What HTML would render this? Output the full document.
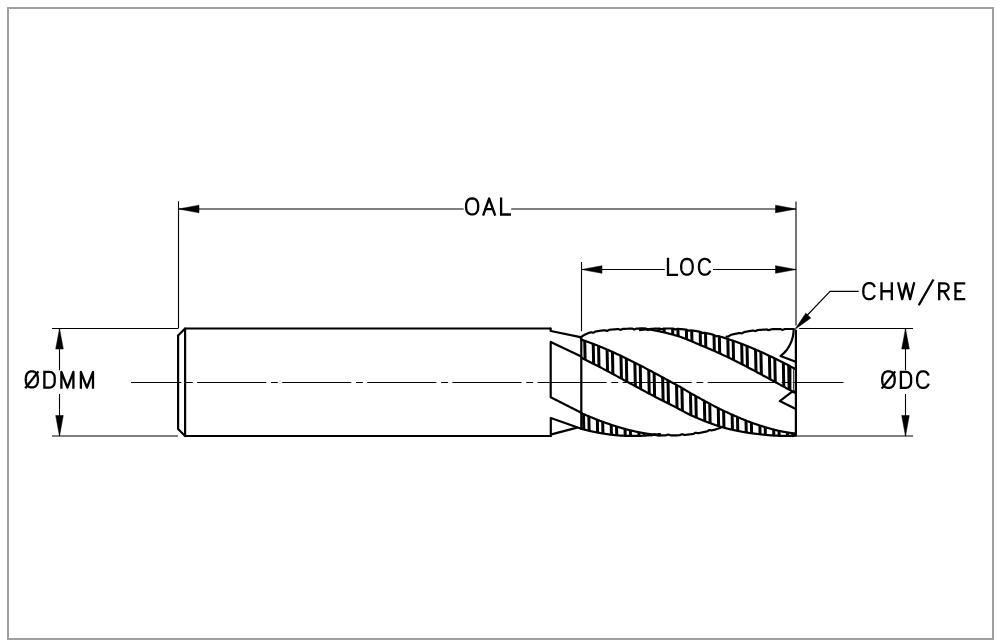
<!DOCTYPE html>
<html><head><meta charset="utf-8"><title>End mill drawing</title>
<style>html,body{margin:0;padding:0;background:#fff;}body{width:1001px;height:644px;overflow:hidden;font-family:"Liberation Sans",sans-serif;}svg{display:block;}</style>
</head><body><svg width="1001" height="644" viewBox="0 0 1001 644"><defs><clipPath id="cb0"><polygon points="581.3,339.62 581.8,339.79 582.3,339.96 582.8,340.13 583.3,340.3 583.8,340.47 584.3,340.64 584.8,340.82 585.3,340.99 585.8,341.17 586.3,341.34 586.81,341.52 587.31,341.7 587.81,341.88 588.31,342.06 588.81,342.24 589.31,342.43 589.81,342.61 590.31,342.79 590.81,342.98 591.31,343.17 591.81,343.36 592.31,343.55 592.81,343.74 593.31,343.93 593.81,344.12 594.31,344.31 594.81,344.51 595.31,344.7 595.81,344.9 596.31,345.09 596.81,345.29 597.31,345.49 597.82,345.69 598.32,345.89 598.82,346.09 599.32,346.29 599.82,346.5 600.32,346.7 600.82,346.91 601.32,347.11 601.82,347.32 602.32,347.53 602.82,347.74 603.32,347.95 603.82,348.16 604.32,348.37 604.82,348.58 605.32,348.79 605.82,349.01 606.32,349.22 606.82,349.44 607.32,349.66 607.82,349.87 608.33,350.09 608.83,350.31 609.33,350.53 609.83,350.75 610.33,350.97 610.83,351.2 611.33,351.42 611.83,351.64 612.33,351.87 612.83,352.09 613.33,352.32 613.83,352.55 614.33,352.77 614.83,353 615.33,353.23 615.83,353.46 616.33,353.69 616.83,353.92 617.33,354.16 617.83,354.39 618.33,354.62 618.83,354.86 619.34,355.09 619.84,355.33 620.34,355.56 620.84,355.8 621.34,356.04 621.84,356.28 622.34,356.52 622.84,356.76 623.34,357 623.84,357.24 624.34,357.48 624.84,357.72 625.34,357.97 625.84,358.21 626.34,358.45 626.84,358.7 627.34,358.94 627.84,359.19 628.34,359.44 628.84,359.68 629.34,359.93 629.85,360.18 630.35,360.43 630.85,360.68 631.35,360.93 631.85,361.18 632.35,361.43 632.85,361.68 633.35,361.93 633.85,362.19 634.35,362.44 634.85,362.69 635.35,362.95 635.85,363.2 636.35,363.46 636.85,363.71 637.35,363.97 637.85,364.23 638.35,364.48 638.85,364.74 639.35,365 639.85,365.26 640.36,365.52 640.86,365.78 641.36,366.04 641.86,366.3 642.36,366.56 642.86,366.82 643.36,367.08 643.86,367.34 644.36,367.6 644.86,367.87 645.36,368.13 645.86,368.39 646.36,368.66 646.86,368.92 647.36,369.18 647.86,369.45 648.36,369.71 648.86,369.98 649.36,370.24 649.86,370.51 650.36,370.78 650.86,371.04 651.37,371.31 651.87,371.58 652.37,371.84 652.87,372.11 653.37,372.38 653.87,372.65 654.37,372.92 654.87,373.19 655.37,373.45 655.87,373.72 656.37,373.99 656.87,374.26 657.37,374.53 657.87,374.8 658.37,375.07 658.87,375.34 659.37,375.61 659.87,375.88 660.37,376.15 660.87,376.42 661.37,376.7 661.88,376.97 662.38,377.24 662.88,377.51 663.38,377.78 663.88,378.05 664.38,378.32 664.88,378.6 665.38,378.87 665.88,379.14 666.38,379.41 666.88,379.68 667.38,379.96 667.88,380.23 668.38,380.5 668.88,380.77 669.38,381.05 669.88,381.32 670.38,381.59 670.88,381.86 671.38,382.14 671.88,382.41 672.38,382.68 672.89,382.95 673.39,383.23 673.89,383.5 674.39,383.77 674.89,384.04 675.39,384.32 675.89,384.59 676.39,384.86 676.89,385.13 677.39,385.41 677.89,385.68 678.39,385.95 678.89,386.22 679.39,386.49 679.89,386.76 680.39,387.06 680.89,387.36 681.39,387.66 681.89,387.96 682.39,388.26 682.89,388.57 683.4,388.87 683.9,389.17 684.4,389.47 684.9,389.77 685.4,390.07 685.9,390.37 686.4,390.67 686.9,390.97 687.4,391.27 687.9,391.56 688.4,391.86 688.9,392.16 689.4,392.46 689.9,392.76 690.4,393.04 690.9,393.33 691.4,393.61 691.9,393.89 692.4,394.17 692.9,394.45 693.4,394.73 693.9,395.01 694.41,395.3 694.91,395.58 695.41,395.86 695.91,396.13 696.41,396.41 696.91,396.69 697.41,396.97 697.91,397.25 698.41,397.53 698.91,397.8 699.41,398.08 699.91,398.36 700.41,398.63 700.91,398.91 701.41,399.18 701.91,399.46 702.41,399.73 702.91,400.01 703.41,400.28 703.91,400.56 704.41,400.83 704.92,401.1 705.42,401.37 705.92,401.64 706.42,401.92 706.92,402.19 707.42,402.46 707.92,402.72 708.42,402.99 708.92,403.26 709.42,403.53 709.92,403.8 710.42,404.06 710.92,404.33 711.42,404.6 711.92,404.86 712.42,405.13 712.92,405.39 713.42,405.66 713.92,405.92 714.42,406.18 714.92,406.44 715.42,406.7 715.93,406.97 716.43,407.23 716.93,407.48 717.43,407.74 717.93,408 718.43,408.26 718.93,408.52 719.43,408.77 719.93,409.03 720.43,409.27 720.93,409.51 721.43,409.75 721.93,409.99 722.43,410.23 722.93,410.46 723.43,410.7 723.93,410.93 724.43,411.17 724.93,411.4 725.43,411.64 725.93,411.87 726.44,412.1 726.94,412.33 727.44,412.56 727.94,412.79 728.44,413.02 728.94,413.25 729.44,413.48 729.94,413.7 730.44,413.93 730.94,414.15 731.44,414.38 731.94,414.6 732.44,414.82 732.94,415.05 733.44,415.27 733.94,415.49 734.44,415.71 734.94,415.93 735.44,416.14 735.94,416.36 736.44,416.58 736.94,416.79 737.45,417.01 737.95,417.22 738.45,417.43 738.95,417.64 739.45,417.86 739.95,418.07 740.45,418.27 740.95,418.48 741.45,418.69 741.95,418.9 742.45,419.1 742.95,419.31 743.45,419.51 743.95,419.71 744.45,419.92 744.95,420.12 745.45,420.32 745.95,420.52 746.45,420.72 746.95,420.91 747.45,421.11 747.96,421.3 748.46,421.5 748.96,421.69 749.46,421.88 749.96,422.08 750.46,422.26 750.96,422.44 751.46,422.62 751.96,422.8 752.46,422.98 752.96,423.16 753.46,423.33 753.96,423.51 754.46,423.68 754.96,423.85 755.46,424.03 755.96,424.2 756.46,424.37 756.96,424.54 757.46,424.7 757.96,424.87 758.47,425.04 758.97,425.2 759.47,425.36 759.97,425.53 760.47,425.69 760.97,425.85 761.47,426.01 761.97,426.17 762.47,426.32 762.97,426.48 763.47,426.63 763.97,426.79 764.47,426.94 764.97,427.09 765.47,427.24 765.97,427.39 766.47,427.54 766.97,427.69 767.47,427.83 767.97,427.98 768.47,428.12 768.97,428.27 769.48,428.41 769.98,428.55 770.48,428.69 770.98,428.82 771.48,428.96 771.98,429.1 772.48,429.23 772.98,429.36 773.48,429.5 773.98,429.63 774.48,429.76 774.98,429.88 775.48,430.01 775.98,430.14 776.48,430.26 776.98,430.39 777.48,430.51 777.98,430.63 778.48,430.75 778.98,430.87 779.48,430.99 779.99,431.1 780.49,431.2 780.99,431.3 781.49,431.39 781.99,431.49 782.49,431.58 782.99,431.68 783.49,431.77 783.99,431.86 784.49,431.94 784.99,432.03 785.49,432.12 785.99,432.2 786.49,432.29 786.99,432.37 787.49,432.45 787.99,432.53 788.49,432.61 788.99,432.68 789.49,432.76 789.99,432.83 790.49,432.91 791,432.98 791.5,433.05 792,433.12 792.5,433.19 793,433.25 793.5,433.32 794,433.38 794.5,433.45 795,433.51 795.5,433.57 796,433.63 796,435.52 795.5,435.55 795,435.58 794.5,435.61 794,435.63 793.5,435.66 793,435.68 792.5,435.7 792,435.73 791.5,435.75 791,435.76 790.49,435.78 789.99,435.8 789.49,435.81 788.99,435.82 788.49,435.84 787.99,435.85 787.49,435.85 786.99,435.86 786.49,435.87 785.99,435.87 785.49,435.88 784.99,435.88 784.49,435.88 783.99,435.88 783.49,435.88 782.99,435.87 782.49,435.87 781.99,435.86 781.49,435.85 780.99,435.84 780.49,435.83 779.99,435.82 779.48,435.81 778.98,435.79 778.48,435.78 777.98,435.76 777.48,435.74 776.98,435.72 776.48,435.7 775.98,435.68 775.48,435.65 774.98,435.63 774.48,435.6 773.98,435.57 773.48,435.54 772.98,435.51 772.48,435.48 771.98,435.44 771.48,435.41 770.98,435.37 770.48,435.33 769.98,435.3 769.48,435.25 768.97,435.21 768.47,435.17 767.97,435.12 767.47,435.08 766.97,435.03 766.47,434.98 765.97,434.93 765.47,434.88 764.97,434.83 764.47,434.77 763.97,434.72 763.47,434.66 762.97,434.6 762.47,434.54 761.97,434.48 761.47,434.42 760.97,434.35 760.47,434.29 759.97,434.22 759.47,434.18 758.97,434.13 758.47,434.08 757.96,434.03 757.46,433.98 756.96,433.92 756.46,433.87 755.96,433.81 755.46,433.76 754.96,433.7 754.46,433.64 753.96,433.58 753.46,433.51 752.96,433.45 752.46,433.38 751.96,433.32 751.46,433.25 750.96,433.18 750.46,433.11 749.96,433.04 749.46,432.97 748.96,432.89 748.46,432.82 747.96,432.74 747.45,432.66 746.95,432.58 746.45,432.5 745.95,432.42 745.45,432.33 744.95,432.25 744.45,432.16 743.95,432.08 743.45,431.99 742.95,431.9 742.45,431.81 741.95,431.72 741.45,431.62 740.95,431.53 740.45,431.43 739.95,431.33 739.45,431.24 738.95,431.14 738.45,431.04 737.95,430.95 737.45,430.85 736.94,430.74 736.44,430.64 735.94,430.54 735.44,430.43 734.94,430.33 734.44,430.22 733.94,430.11 733.44,430 732.94,429.89 732.44,429.78 731.94,429.66 731.44,429.55 730.94,429.43 730.44,429.32 729.94,429.2 729.44,429.08 728.94,428.96 728.44,428.84 727.94,428.71 727.44,428.59 726.94,428.47 726.44,428.34 725.93,428.21 725.43,428.08 724.93,427.95 724.43,427.82 723.93,427.69 723.43,427.56 722.93,427.42 722.43,427.29 721.93,427.15 721.43,427.01 720.93,426.87 720.43,426.71 719.93,426.55 719.43,426.38 718.93,426.22 718.43,426.05 717.93,425.89 717.43,425.72 716.93,425.55 716.43,425.38 715.93,425.21 715.42,425.04 714.92,424.86 714.42,424.69 713.92,424.51 713.42,424.34 712.92,424.16 712.42,423.98 711.92,423.8 711.42,423.62 710.92,423.44 710.42,423.26 709.92,423.07 709.42,422.89 708.92,422.7 708.42,422.52 707.92,422.33 707.42,422.14 706.92,421.95 706.42,421.76 705.92,421.57 705.42,421.38 704.92,421.18 704.41,420.98 703.91,420.78 703.41,420.58 702.91,420.37 702.41,420.17 701.91,419.96 701.41,419.75 700.91,419.55 700.41,419.34 699.91,419.13 699.41,418.92 698.91,418.71 698.41,418.49 697.91,418.28 697.41,418.07 696.91,417.85 696.41,417.63 695.91,417.42 695.41,417.2 694.91,416.98 694.41,416.76 693.9,416.54 693.4,416.32 692.9,416.1 692.4,415.87 691.9,415.65 691.4,415.43 690.9,415.2 690.4,414.97 689.9,414.74 689.4,414.49 688.9,414.23 688.4,413.98 687.9,413.72 687.4,413.46 686.9,413.2 686.4,412.94 685.9,412.68 685.4,412.42 684.9,412.16 684.4,411.9 683.9,411.64 683.4,411.37 682.89,411.11 682.39,410.84 681.89,410.58 681.39,410.31 680.89,410.04 680.39,409.77 679.89,409.51 679.39,409.24 678.89,408.97 678.39,408.69 677.89,408.42 677.39,408.15 676.89,407.88 676.39,407.6 675.89,407.33 675.39,407.06 674.89,406.79 674.39,406.54 673.89,406.3 673.39,406.06 672.89,405.81 672.38,405.57 671.88,405.32 671.38,405.08 670.88,404.83 670.38,404.58 669.88,404.33 669.38,404.08 668.88,403.83 668.38,403.58 667.88,403.33 667.38,403.08 666.88,402.83 666.38,402.58 665.88,402.33 665.38,402.07 664.88,401.82 664.38,401.57 663.88,401.31 663.38,401.06 662.88,400.8 662.38,400.55 661.88,400.29 661.37,400.03 660.87,399.78 660.37,399.52 659.87,399.26 659.37,399 658.87,398.74 658.37,398.48 657.87,398.22 657.37,397.96 656.87,397.7 656.37,397.44 655.87,397.18 655.37,396.92 654.87,396.65 654.37,396.39 653.87,396.13 653.37,395.86 652.87,395.6 652.37,395.34 651.87,395.07 651.37,394.81 650.86,394.54 650.36,394.28 649.86,394.01 649.36,393.74 648.86,393.48 648.36,393.21 647.86,392.94 647.36,392.68 646.86,392.41 646.36,392.14 645.86,391.87 645.36,391.61 644.86,391.34 644.36,391.07 643.86,390.8 643.36,390.53 642.86,390.26 642.36,389.99 641.86,389.72 641.36,389.45 640.86,389.18 640.36,388.91 639.85,388.64 639.35,388.37 638.85,388.1 638.35,387.83 637.85,387.56 637.35,387.29 636.85,387.01 636.35,386.74 635.85,386.47 635.35,386.2 634.85,385.93 634.35,385.66 633.85,385.38 633.35,385.11 632.85,384.84 632.35,384.57 631.85,384.29 631.35,384.02 630.85,383.75 630.35,383.48 629.85,383.2 629.34,382.93 628.84,382.66 628.34,382.39 627.84,382.11 627.34,381.84 626.84,381.57 626.34,381.3 625.84,381.02 625.34,380.75 624.84,380.48 624.34,380.21 623.84,379.93 623.34,379.66 622.84,379.39 622.34,379.12 621.84,378.85 621.34,378.57 620.84,378.3 620.34,378.03 619.84,377.76 619.34,377.49 618.83,377.22 618.33,376.94 617.83,376.67 617.33,376.4 616.83,376.13 616.33,375.86 615.83,375.59 615.33,375.32 614.83,375.05 614.33,374.78 613.83,374.51 613.33,374.24 612.83,373.97 612.33,373.7 611.83,373.43 611.33,373.16 610.83,372.89 610.33,372.63 609.83,372.36 609.33,372.09 608.83,371.82 608.33,371.56 607.82,371.29 607.32,371.02 606.82,370.76 606.32,370.49 605.82,370.22 605.32,369.96 604.82,369.69 604.32,369.43 603.82,369.16 603.32,368.9 602.82,368.63 602.32,368.37 601.82,368.11 601.32,367.85 600.82,367.58 600.32,367.32 599.82,367.06 599.32,366.8 598.82,366.54 598.32,366.28 597.82,366.02 597.31,365.76 596.81,365.5 596.31,365.24 595.81,364.98 595.31,364.72 594.81,364.46 594.31,364.21 593.81,363.95 593.31,363.69 592.81,363.44 592.31,363.18 591.81,362.93 591.31,362.67 590.81,362.42 590.31,362.17 589.81,361.91 589.31,361.66 588.81,361.41 588.31,361.16 587.81,360.91 587.31,360.66 586.81,360.41 586.3,360.16 585.8,359.91 585.3,359.66 584.8,359.42 584.3,359.17 583.8,358.92 583.3,358.68 582.8,358.43 582.3,358.19 581.8,357.95 581.3,357.7"/></clipPath><clipPath id="cb1"><polygon points="640,330.09 640.5,330.02 641,329.96 641.5,329.89 642,329.83 642.5,329.77 643,329.71 643.5,329.65 644,329.59 644.5,329.54 645,329.48 645.5,329.43 646,329.49 646.5,329.61 647,329.74 647.5,329.87 648,329.96 648.5,329.74 649,329.52 649.5,329.3 650,329.08 650.5,328.96 651,328.93 651.5,328.89 652,328.85 652.5,328.82 653,328.79 653.5,328.75 654,328.72 654.5,328.69 655,328.67 655.5,328.64 656,328.61 656.5,328.59 657,328.57 657.5,328.55 658,328.53 658.5,328.51 659,328.5 659.5,328.56 660,328.74 660.5,328.91 661,329.09 661.5,329.26 662,329.16 662.5,328.98 663,328.81 663.5,328.63 664,328.5 664.5,328.5 665,328.5 665.5,328.5 666,328.5 666.5,328.5 667,328.5 667.5,328.5 668,328.5 668.5,328.5 669,328.5 669.5,328.5 670,328.5 670.5,328.5 671,328.5 671.5,328.52 672,328.54 672.5,328.56 673,328.59 673.5,328.79 674,328.99 674.5,329.19 675,329.4 675.5,329.43 676,329.28 676.5,329.14 677,328.99 677.5,328.85 678,328.88 678.5,328.91 679,328.95 679.5,328.99 680,329.03 680.5,329.08 681,329.12 681.5,329.16 682,329.21 682.5,329.26 683,329.31 683.5,329.36 684,329.41 684.5,329.46 685,329.52 685.5,329.57 686,329.63 686.5,329.69 687,329.88 687.5,330.12 688,330.36 688.5,330.6 689,330.77 689.5,330.66 690,330.55 690.5,330.44 691,330.34 691.5,330.35 692,330.42 692.5,330.5 693,330.57 693.5,330.65 694,330.73 694.5,330.81 695,330.89 695.5,330.97 696,331.06 696.5,331.14 697,331.23 697.5,331.32 698,331.4 698.5,331.5 699,331.59 699.5,331.68 700,331.77 700.5,331.95 701,332.22 701.5,332.5 702,332.77 702.5,333.05 703,333.01 703.5,332.94 704,332.86 704.5,332.79 705,332.79 705.5,332.9 706,333.01 706.5,333.12 707,333.23 707.5,333.34 708,333.46 708.5,333.57 709,333.69 709.5,333.81 710,333.93 710.5,334.05 711,334.17 711.5,334.29 712,334.42 712.5,334.54 713,334.67 713.5,334.8 714,334.95 714.5,335.26 715,335.57 715.5,335.88 716,336.19 716.5,336.29 717,336.25 717.5,336.21 718,336.17 718.5,336.15 719,336.29 719.5,336.43 720,336.58 720.5,336.72 721,336.87 721.5,337.01 722,337.16 722.5,337.31 723,337.46 723.5,337.61 724,337.77 724.5,337.92 725,338.08 725.5,338.23 726,338.39 726.5,338.55 727,338.71 727.5,338.87 728,339.03 728.5,339.19 729,339.36 729.5,339.52 730,339.69 730.5,339.86 731,340.03 731.5,340.2 732,340.37 732.5,340.54 733,340.71 733.5,340.88 734,341.06 734.5,341.24 735,341.41 735.5,341.59 736,341.77 736.5,341.95 737,342.13 737.5,342.31 738,342.5 738.5,342.68 739,342.87 739.5,343.05 740,343.24 740.5,343.43 741,343.62 741.5,343.81 742,344 742.5,344.19 743,344.38 743.5,344.58 744,344.77 744.5,344.97 745,345.17 745.5,345.36 746,345.56 746.5,345.76 747,345.96 747.5,346.17 748,346.37 748.5,346.57 749,346.78 749.5,346.98 750,347.19 750.5,347.4 751,347.6 751.5,347.81 752,348.02 752.5,348.23 753,348.44 753.5,348.66 754,348.87 754.5,349.08 755,349.3 755.5,349.52 756,349.73 756.5,349.95 757,350.17 757.5,350.39 758,350.61 758.5,350.83 759,351.05 759.5,351.27 760,351.5 760.5,351.72 761,351.94 761.5,352.17 762,352.4 762.5,352.62 763,352.85 763.5,353.08 764,353.31 764.5,353.54 765,353.77 765.5,354 766,354.23 766.5,354.47 767,354.7 767.5,354.93 768,355.17 768.5,355.41 769,355.64 769.5,355.88 770,356.12 770.5,356.36 771,356.59 771.5,356.83 772,357.08 772.5,357.32 773,357.56 773.5,357.8 774,358.04 774.5,358.29 775,358.53 775.5,358.78 776,359.02 776.5,359.27 777,359.51 777.5,359.76 778,360.01 778.5,360.26 779,360.51 779.5,360.76 780,361.01 780.5,361.26 781,361.51 781.5,361.76 782,362.01 782.5,362.26 783,362.52 783.5,362.77 784,363.03 784.5,363.28 785,363.53 785.5,363.79 786,364.05 786.5,364.3 787,364.56 787.5,364.82 788,365.08 788.5,365.33 789,365.59 789.5,365.85 790,366.11 790.5,366.37 791,366.63 791.5,366.89 792,367.15 792.5,367.42 793,367.68 793.5,367.94 794,368.2 794.5,368.47 795,368.73 795.5,368.99 796,369.26 796,393.28 795.5,393.02 795,392.75 794.5,392.48 794,392.22 793.5,391.95 793,391.68 792.5,391.41 792,391.14 791.5,390.88 791,390.61 790.5,390.34 790,390.07 789.5,389.8 789,389.53 788.5,389.26 788,388.99 787.5,388.72 787,388.45 786.5,388.18 786,387.91 785.5,387.64 785,387.37 784.5,387.09 784,386.82 783.5,386.55 783,386.28 782.5,386.01 782,385.74 781.5,385.47 781,385.19 780.5,384.92 780,384.65 779.5,384.38 779,384.11 778.5,383.83 778,383.56 777.5,383.29 777,383.02 776.5,382.74 776,382.47 775.5,382.2 775,381.93 774.5,381.66 774,381.38 773.5,381.11 773,380.84 772.5,380.57 772,380.29 771.5,380.02 771,379.75 770.5,379.48 770,379.21 769.5,378.93 769,378.66 768.5,378.39 768,378.12 767.5,377.85 767,377.58 766.5,377.31 766,377.03 765.5,376.76 765,376.49 764.5,376.22 764,375.95 763.5,375.68 763,375.41 762.5,375.14 762,374.87 761.5,374.6 761,374.33 760.5,374.06 760,373.79 759.5,373.52 759,373.26 758.5,372.99 758,372.72 757.5,372.45 757,372.18 756.5,371.92 756,371.65 755.5,371.38 755,371.12 754.5,370.85 754,370.58 753.5,370.32 753,370.05 752.5,369.79 752,369.52 751.5,369.26 751,368.99 750.5,368.73 750,368.47 749.5,368.2 749,367.94 748.5,367.68 748,367.42 747.5,367.15 747,366.89 746.5,366.63 746,366.37 745.5,366.11 745,365.85 744.5,365.59 744,365.33 743.5,365.08 743,364.82 742.5,364.56 742,364.3 741.5,364.05 741,363.79 740.5,363.53 740,363.28 739.5,363.03 739,362.77 738.5,362.52 738,362.26 737.5,362.01 737,361.76 736.5,361.51 736,361.26 735.5,361.01 735,360.76 734.5,360.51 734,360.26 733.5,360.01 733,359.76 732.5,359.51 732,359.27 731.5,359.02 731,358.78 730.5,358.53 730,358.29 729.5,358.04 729,357.8 728.5,357.56 728,357.32 727.5,357.08 727,356.83 726.5,356.59 726,356.36 725.5,356.12 725,355.88 724.5,355.64 724,355.41 723.5,355.17 723,354.93 722.5,354.7 722,354.47 721.5,354.23 721,354 720.5,353.77 720,353.54 719.5,353.31 719,353.08 718.5,352.85 718,352.62 717.5,352.4 717,352.17 716.5,351.94 716,351.72 715.5,351.5 715,351.27 714.5,351.05 714,350.83 713.5,350.61 713,350.39 712.5,350.17 712,349.95 711.5,349.73 711,349.52 710.5,349.3 710,349.08 709.5,348.87 709,348.66 708.5,348.44 708,348.23 707.5,348.02 707,347.81 706.5,347.6 706,347.4 705.5,347.19 705,346.98 704.5,346.78 704,346.57 703.5,346.37 703,346.17 702.5,345.96 702,345.76 701.5,345.56 701,345.36 700.5,345.17 700,344.97 699.5,344.74 699,344.52 698.5,344.29 698,344.07 697.5,343.85 697,343.63 696.5,343.41 696,343.19 695.5,342.97 695,342.75 694.5,342.54 694,342.32 693.5,342.11 693,341.89 692.5,341.68 692,341.47 691.5,341.26 691,341.05 690.5,340.84 690,340.64 689.5,340.43 689,340.22 688.5,340.02 688,339.82 687.5,339.62 687,339.42 686.5,339.22 686,339.02 685.5,338.82 685,338.62 684.5,338.43 684,338.23 683.5,338.04 683,337.85 682.5,337.66 682,337.47 681.5,337.28 681,337.09 680.5,336.91 680,336.72 679.5,336.57 679,336.41 678.5,336.26 678,336.11 677.5,335.96 677,335.81 676.5,335.67 676,335.52 675.5,335.38 675,335.23 674.5,335.09 674,334.95 673.5,334.81 673,334.67 672.5,334.53 672,334.39 671.5,334.26 671,334.12 670.5,333.99 670,333.86 669.5,333.73 669,333.6 668.5,333.47 668,333.34 667.5,333.22 667,333.09 666.5,332.97 666,332.85 665.5,332.73 665,332.61 664.5,332.49 664,332.37 663.5,332.26 663,332.14 662.5,332.03 662,331.92 661.5,331.81 661,331.7 660.5,331.59 660,331.48 659.5,331.37 659,331.27 658.5,331.17 658,331.06 657.5,330.96 657,330.86 656.5,330.77 656,330.67 655.5,330.57 655,330.48 654.5,330.39 654,330.3 653.5,330.2 653,330.12 652.5,330.03 652,329.94 651.5,329.86 651,329.77 650.5,329.69 650,329.61 649.5,329.53 649,329.45 648.5,329.37 648,329.3 647.5,329.22 647,329.15 646.5,329.08 646,329.01 645.5,328.94 645,328.87 644.5,328.8 644,328.74 643.5,328.67 643,328.61 642.5,328.55 642,328.5 641.5,328.5 641,328.5 640.5,328.5 640,328.5"/></clipPath><clipPath id="cb2"><polygon points="581.3,413.04 581.8,413.26 582.3,413.48 582.8,413.71 583.31,413.93 583.81,414.15 584.31,414.37 584.81,414.58 585.31,414.8 585.81,415.02 586.31,415.23 586.81,415.45 587.32,415.66 587.82,415.88 588.32,416.09 588.82,416.3 589.32,416.51 589.82,416.72 590.32,416.93 590.82,417.14 591.33,417.35 591.83,417.55 592.33,417.76 592.83,417.96 593.33,418.17 593.83,418.37 594.33,418.57 594.83,418.77 595.34,418.97 595.84,419.17 596.34,419.37 596.84,419.56 597.34,419.76 597.84,419.95 598.34,420.15 598.84,420.34 599.35,420.53 599.85,420.72 600.35,420.91 600.85,421.1 601.35,421.29 601.85,421.48 602.35,421.67 602.85,421.85 603.36,422.03 603.86,422.22 604.36,422.4 604.86,422.58 605.36,422.76 605.86,422.94 606.36,423.12 606.86,423.29 607.37,423.47 607.87,423.64 608.37,423.82 608.87,423.99 609.37,424.16 609.87,424.33 610.37,424.5 610.88,424.67 611.38,424.84 611.88,425 612.38,425.17 612.88,425.33 613.38,425.49 613.88,425.65 614.38,425.81 614.89,425.97 615.39,426.13 615.89,426.29 616.39,426.45 616.89,426.6 617.39,426.75 617.89,426.91 618.39,427.06 618.9,427.21 619.4,427.36 619.9,427.5 620.4,427.65 620.9,427.8 621.4,427.94 621.9,428.08 622.4,428.23 622.91,428.37 623.41,428.51 623.91,428.64 624.41,428.78 624.91,428.92 625.41,429.05 625.91,429.19 626.41,429.32 626.92,429.45 627.42,429.58 627.92,429.71 628.42,429.84 628.92,429.96 629.42,430.09 629.92,430.21 630.42,430.33 630.93,430.45 631.43,430.57 631.93,430.69 632.43,430.81 632.93,430.93 633.43,431.04 633.93,431.16 634.44,431.27 634.94,431.38 635.44,431.49 635.94,431.6 636.44,431.71 636.94,431.81 637.44,431.92 637.94,432.02 638.45,432.12 638.95,432.23 639.45,432.32 639.95,432.42 640.45,432.52 640.95,432.62 641.45,432.71 641.95,432.8 642.46,432.9 642.96,432.99 643.46,433.08 643.96,433.16 644.46,433.25 644.96,433.34 645.46,433.42 645.96,433.5 646.47,433.59 646.97,433.67 647.47,433.74 647.97,433.82 648.47,433.9 648.97,433.97 649.47,434.05 649.97,434.12 650.48,434.19 650.98,434.26 651.48,434.33 651.98,434.39 652.48,434.46 652.98,434.52 653.48,434.59 653.98,434.65 654.49,434.71 654.99,434.77 655.49,434.82 655.99,434.88 656.49,434.94 656.99,434.99 657.49,435.04 657.99,435.09 658.5,435.14 659,435.19 659.5,435.24 660,435.28 660,434 659.5,434.07 659,434.14 658.5,434.21 657.99,434.28 657.49,434.35 656.99,434.42 656.49,434.48 655.99,434.55 655.49,434.61 654.99,434.67 654.49,434.73 653.98,434.79 653.48,434.84 652.98,434.9 652.48,434.95 651.98,435.01 651.48,435.06 650.98,435.11 650.48,435.16 649.97,435.21 649.47,435.25 648.97,435.3 648.47,435.34 647.97,435.38 647.47,435.42 646.97,435.46 646.47,435.5 645.96,435.54 645.46,435.57 644.96,435.6 644.46,435.64 643.96,435.67 643.46,435.7 642.96,435.73 642.46,435.75 641.95,435.78 641.45,435.8 640.95,435.8 640.45,435.8 639.95,435.8 639.45,435.8 638.95,435.8 638.45,435.8 637.94,435.8 637.44,435.8 636.94,435.8 636.44,435.8 635.94,435.8 635.44,435.8 634.94,435.8 634.44,435.8 633.93,435.8 633.43,435.8 632.93,435.8 632.43,435.8 631.93,435.8 631.43,435.8 630.93,435.8 630.42,435.8 629.92,435.8 629.42,435.8 628.92,435.8 628.42,435.8 627.92,435.8 627.42,435.8 626.92,435.8 626.41,435.8 625.91,435.8 625.41,435.8 624.91,435.8 624.41,435.8 623.91,435.77 623.41,435.75 622.91,435.72 622.4,435.69 621.9,435.66 621.4,435.63 620.9,435.6 620.4,435.56 619.9,435.53 619.4,435.49 618.9,435.45 618.39,435.42 617.89,435.37 617.39,435.33 616.89,435.29 616.39,435.24 615.89,435.2 615.39,435.15 614.89,435.1 614.38,435.05 613.88,435 613.38,434.95 612.88,434.89 612.38,434.84 611.88,434.78 611.38,434.72 610.88,434.66 610.37,434.6 609.87,434.54 609.37,434.47 608.87,434.41 608.37,434.34 607.87,434.27 607.37,434.2 606.86,434.13 606.36,434.06 605.86,433.99 605.36,433.91 604.86,433.84 604.36,433.76 603.86,433.68 603.36,433.6 602.85,433.52 602.35,433.44 601.85,433.35 601.35,433.27 600.85,433.18 600.35,433.09 599.85,433 599.35,432.91 598.84,432.82 598.34,432.73 597.84,432.63 597.34,432.54 596.84,432.44 596.34,432.34 595.84,432.24 595.34,432.14 594.83,432.04 594.33,431.94 593.83,431.83 593.33,431.73 592.83,431.62 592.33,431.51 591.83,431.4 591.33,431.29 590.82,431.18 590.32,431.06 589.82,430.95 589.32,430.83 588.82,430.71 588.32,430.6 587.82,430.48 587.32,430.36 586.81,430.23 586.31,430.11 585.81,429.98 585.31,429.86 584.81,429.73 584.31,429.6 583.81,429.47 583.31,429.34 582.8,429.21 582.3,429.08 581.8,428.94 581.3,428.81"/></clipPath></defs><rect x="8" y="8" width="985" height="631" fill="none" stroke="#a0a0a0" stroke-width="2"/><line x1="178.5" y1="201.2" x2="178.5" y2="328.5" stroke="#000" stroke-width="1.1"/><line x1="178" y1="328.5" x2="52" y2="328.5" stroke="#000" stroke-width="1.1"/><line x1="796" y1="201.6" x2="796" y2="325.5" stroke="#000" stroke-width="1.1"/><line x1="178.5" y1="209" x2="463.6" y2="209" stroke="#000" stroke-width="1.1"/><line x1="511.2" y1="209" x2="796" y2="209" stroke="#000" stroke-width="1.1"/><polygon points="178.5,209 199,205.2 199,212.8" fill="#000" stroke="#000" stroke-width="0.5" stroke-linejoin="round"/><polygon points="796,209 775.5,212.8 775.5,205.2" fill="#000" stroke="#000" stroke-width="0.5" stroke-linejoin="round"/><line x1="581.5" y1="262" x2="581.5" y2="331.2" stroke="#000" stroke-width="1.1"/><line x1="581.5" y1="269.5" x2="664.8" y2="269.5" stroke="#000" stroke-width="1.1"/><line x1="713" y1="269.5" x2="796" y2="269.5" stroke="#000" stroke-width="1.1"/><polygon points="581.5,269.5 602,265.7 602,273.3" fill="#000" stroke="#000" stroke-width="0.5" stroke-linejoin="round"/><polygon points="796,269.5 775.5,273.3 775.5,265.7" fill="#000" stroke="#000" stroke-width="0.5" stroke-linejoin="round"/><line x1="52" y1="436" x2="178" y2="436" stroke="#000" stroke-width="1.1"/><line x1="59.5" y1="328.5" x2="59.5" y2="370.3" stroke="#000" stroke-width="1.1"/><line x1="59.5" y1="394" x2="59.5" y2="436" stroke="#000" stroke-width="1.1"/><polygon points="59.5,328.5 63.3,349 55.7,349" fill="#000" stroke="#000" stroke-width="0.5" stroke-linejoin="round"/><polygon points="59.5,436 55.7,415.5 63.3,415.5" fill="#000" stroke="#000" stroke-width="0.5" stroke-linejoin="round"/><line x1="799.2" y1="328.5" x2="913" y2="328.5" stroke="#000" stroke-width="1.1"/><line x1="795.3" y1="436" x2="913" y2="436" stroke="#000" stroke-width="1.1"/><line x1="905.5" y1="328.5" x2="905.5" y2="370.3" stroke="#000" stroke-width="1.1"/><line x1="905.5" y1="394" x2="905.5" y2="436" stroke="#000" stroke-width="1.1"/><polygon points="905.5,328.5 909.3,349 901.7,349" fill="#000" stroke="#000" stroke-width="0.5" stroke-linejoin="round"/><polygon points="905.5,436 901.7,415.5 909.3,415.5" fill="#000" stroke="#000" stroke-width="0.5" stroke-linejoin="round"/><polyline points="858.7,291.4 830.1,291.4 806,316.5" stroke="#000" stroke-width="1.1" fill="none"/><polygon points="794.8,329.5 805.81,313.14 810.83,318.02" fill="#000" stroke="#000" stroke-width="0.5" stroke-linejoin="round"/><path d="M131,382.5H181.2 M185.8,382.5H192.7 M197.1,382.5H266.2 M270.9,382.5H277.8 M282.2,382.5H351.3 M356,382.5H362.9 M367.3,382.5H436.4 M441.1,382.5H448 M452.4,382.5H521.5 M526.2,382.5H533.1 M537.5,382.5H606.6 M611.3,382.5H618.2 M622.6,382.5H691.7 M696.4,382.5H703.3 M707.7,382.5H776.8 M781.5,382.5H788.4 M792.8,382.5H843.5" stroke="#000" stroke-width="1.1" fill="none"/><path d="M550.5,328.5 H185.1 L178.1,335.5 V429 L185.1,436 H550.8" stroke="#000" stroke-width="2.2" fill="none" stroke-linejoin="round" stroke-linecap="round"/><path d="M185.1,328.5 V436" stroke="#000" stroke-width="2.2" fill="none" stroke-linejoin="round" stroke-linecap="round"/><path d="M550.5,328.5 L550.8,331 L580.5,337.2" stroke="#000" stroke-width="2.2" fill="none" stroke-linejoin="round" stroke-linecap="round"/><path d="M581.3,356.5 L550.7,342 V397.2 L581.3,412.8" stroke="#000" stroke-width="2.2" fill="none" stroke-linejoin="round" stroke-linecap="round"/><path d="M550.8,436 V418 L581.3,428.7 M551.5,434.4 L577,427.6" stroke="#000" stroke-width="2.2" fill="none" stroke-linejoin="round" stroke-linecap="round"/><path d="M581.3,337.2 V429" stroke="#000" stroke-width="2.2" fill="none" stroke-linejoin="round" stroke-linecap="round"/><g clip-path="url(#cb0)"><path d="M551.9,339.62L553.83,435.88M557.2,339.62L559.13,435.88M565.65,339.62L567.58,435.88M570.95,339.62L572.88,435.88M579.4,339.62L581.33,435.88M584.7,339.62L586.63,435.88M593.15,339.62L595.08,435.88M598.45,339.62L600.38,435.88M606.9,339.62L608.83,435.88M612.2,339.62L614.13,435.88M620.65,339.62L622.58,435.88M625.95,339.62L627.88,435.88M634.4,339.62L636.33,435.88M639.7,339.62L641.63,435.88M648.15,339.62L650.08,435.88M653.45,339.62L655.38,435.88M661.9,339.62L663.83,435.88M667.2,339.62L669.13,435.88M675.65,339.62L677.58,435.88M680.95,339.62L682.88,435.88M689.4,339.62L691.33,435.88M694.7,339.62L696.63,435.88M703.15,339.62L705.08,435.88M708.45,339.62L710.38,435.88M716.9,339.62L718.83,435.88M722.2,339.62L724.13,435.88M730.65,339.62L732.58,435.88M735.95,339.62L737.88,435.88M744.4,339.62L746.33,435.88M749.7,339.62L751.63,435.88M758.15,339.62L760.08,435.88M763.45,339.62L765.38,435.88M771.9,339.62L773.83,435.88M777.2,339.62L779.13,435.88M785.65,339.62L787.58,435.88M790.95,339.62L792.88,435.88M799.4,339.62L801.33,435.88M804.7,339.62L806.63,435.88M813.15,339.62L815.08,435.88M818.45,339.62L820.38,435.88M826.9,339.62L828.83,435.88M832.2,339.62L834.13,435.88" stroke="#000" stroke-width="3.0"/></g><polyline points="581.3,339.62 581.8,339.79 582.3,339.96 582.8,340.13 583.3,340.3 583.8,340.47 584.3,340.64 584.8,340.82 585.3,340.99 585.8,341.17 586.3,341.34 586.81,341.52 587.31,341.7 587.81,341.88 588.31,342.06 588.81,342.24 589.31,342.43 589.81,342.61 590.31,342.79 590.81,342.98 591.31,343.17 591.81,343.36 592.31,343.55 592.81,343.74 593.31,343.93 593.81,344.12 594.31,344.31 594.81,344.51 595.31,344.7 595.81,344.9 596.31,345.09 596.81,345.29 597.31,345.49 597.82,345.69 598.32,345.89 598.82,346.09 599.32,346.29 599.82,346.5 600.32,346.7 600.82,346.91 601.32,347.11 601.82,347.32 602.32,347.53 602.82,347.74 603.32,347.95 603.82,348.16 604.32,348.37 604.82,348.58 605.32,348.79 605.82,349.01 606.32,349.22 606.82,349.44 607.32,349.66 607.82,349.87 608.33,350.09 608.83,350.31 609.33,350.53 609.83,350.75 610.33,350.97 610.83,351.2 611.33,351.42 611.83,351.64 612.33,351.87 612.83,352.09 613.33,352.32 613.83,352.55 614.33,352.77 614.83,353 615.33,353.23 615.83,353.46 616.33,353.69 616.83,353.92 617.33,354.16 617.83,354.39 618.33,354.62 618.83,354.86 619.34,355.09 619.84,355.33 620.34,355.56 620.84,355.8 621.34,356.04 621.84,356.28 622.34,356.52 622.84,356.76 623.34,357 623.84,357.24 624.34,357.48 624.84,357.72 625.34,357.97 625.84,358.21 626.34,358.45 626.84,358.7 627.34,358.94 627.84,359.19 628.34,359.44 628.84,359.68 629.34,359.93 629.85,360.18 630.35,360.43 630.85,360.68 631.35,360.93 631.85,361.18 632.35,361.43 632.85,361.68 633.35,361.93 633.85,362.19 634.35,362.44 634.85,362.69 635.35,362.95 635.85,363.2 636.35,363.46 636.85,363.71 637.35,363.97 637.85,364.23 638.35,364.48 638.85,364.74 639.35,365 639.85,365.26 640.36,365.52 640.86,365.78 641.36,366.04 641.86,366.3 642.36,366.56 642.86,366.82 643.36,367.08 643.86,367.34 644.36,367.6 644.86,367.87 645.36,368.13 645.86,368.39 646.36,368.66 646.86,368.92 647.36,369.18 647.86,369.45 648.36,369.71 648.86,369.98 649.36,370.24 649.86,370.51 650.36,370.78 650.86,371.04 651.37,371.31 651.87,371.58 652.37,371.84 652.87,372.11 653.37,372.38 653.87,372.65 654.37,372.92 654.87,373.19 655.37,373.45 655.87,373.72 656.37,373.99 656.87,374.26 657.37,374.53 657.87,374.8 658.37,375.07 658.87,375.34 659.37,375.61 659.87,375.88 660.37,376.15 660.87,376.42 661.37,376.7 661.88,376.97 662.38,377.24 662.88,377.51 663.38,377.78 663.88,378.05 664.38,378.32 664.88,378.6 665.38,378.87 665.88,379.14 666.38,379.41 666.88,379.68 667.38,379.96 667.88,380.23 668.38,380.5 668.88,380.77 669.38,381.05 669.88,381.32 670.38,381.59 670.88,381.86 671.38,382.14 671.88,382.41 672.38,382.68 672.89,382.95 673.39,383.23 673.89,383.5 674.39,383.77 674.89,384.04 675.39,384.32 675.89,384.59 676.39,384.86 676.89,385.13 677.39,385.41 677.89,385.68 678.39,385.95 678.89,386.22 679.39,386.49 679.89,386.76 680.39,387.06 680.89,387.36 681.39,387.66 681.89,387.96 682.39,388.26 682.89,388.57 683.4,388.87 683.9,389.17 684.4,389.47 684.9,389.77 685.4,390.07 685.9,390.37 686.4,390.67 686.9,390.97 687.4,391.27 687.9,391.56 688.4,391.86 688.9,392.16 689.4,392.46 689.9,392.76 690.4,393.04 690.9,393.33 691.4,393.61 691.9,393.89 692.4,394.17 692.9,394.45 693.4,394.73 693.9,395.01 694.41,395.3 694.91,395.58 695.41,395.86 695.91,396.13 696.41,396.41 696.91,396.69 697.41,396.97 697.91,397.25 698.41,397.53 698.91,397.8 699.41,398.08 699.91,398.36 700.41,398.63 700.91,398.91 701.41,399.18 701.91,399.46 702.41,399.73 702.91,400.01 703.41,400.28 703.91,400.56 704.41,400.83 704.92,401.1 705.42,401.37 705.92,401.64 706.42,401.92 706.92,402.19 707.42,402.46 707.92,402.72 708.42,402.99 708.92,403.26 709.42,403.53 709.92,403.8 710.42,404.06 710.92,404.33 711.42,404.6 711.92,404.86 712.42,405.13 712.92,405.39 713.42,405.66 713.92,405.92 714.42,406.18 714.92,406.44 715.42,406.7 715.93,406.97 716.43,407.23 716.93,407.48 717.43,407.74 717.93,408 718.43,408.26 718.93,408.52 719.43,408.77 719.93,409.03 720.43,409.27 720.93,409.51 721.43,409.75 721.93,409.99 722.43,410.23 722.93,410.46 723.43,410.7 723.93,410.93 724.43,411.17 724.93,411.4 725.43,411.64 725.93,411.87 726.44,412.1 726.94,412.33 727.44,412.56 727.94,412.79 728.44,413.02 728.94,413.25 729.44,413.48 729.94,413.7 730.44,413.93 730.94,414.15 731.44,414.38 731.94,414.6 732.44,414.82 732.94,415.05 733.44,415.27 733.94,415.49 734.44,415.71 734.94,415.93 735.44,416.14 735.94,416.36 736.44,416.58 736.94,416.79 737.45,417.01 737.95,417.22 738.45,417.43 738.95,417.64 739.45,417.86 739.95,418.07 740.45,418.27 740.95,418.48 741.45,418.69 741.95,418.9 742.45,419.1 742.95,419.31 743.45,419.51 743.95,419.71 744.45,419.92 744.95,420.12 745.45,420.32 745.95,420.52 746.45,420.72 746.95,420.91 747.45,421.11 747.96,421.3 748.46,421.5 748.96,421.69 749.46,421.88 749.96,422.08 750.46,422.26 750.96,422.44 751.46,422.62 751.96,422.8 752.46,422.98 752.96,423.16 753.46,423.33 753.96,423.51 754.46,423.68 754.96,423.85 755.46,424.03 755.96,424.2 756.46,424.37 756.96,424.54 757.46,424.7 757.96,424.87 758.47,425.04 758.97,425.2 759.47,425.36 759.97,425.53 760.47,425.69 760.97,425.85 761.47,426.01 761.97,426.17 762.47,426.32 762.97,426.48 763.47,426.63 763.97,426.79 764.47,426.94 764.97,427.09 765.47,427.24 765.97,427.39 766.47,427.54 766.97,427.69 767.47,427.83 767.97,427.98 768.47,428.12 768.97,428.27 769.48,428.41 769.98,428.55 770.48,428.69 770.98,428.82 771.48,428.96 771.98,429.1 772.48,429.23 772.98,429.36 773.48,429.5 773.98,429.63 774.48,429.76 774.98,429.88 775.48,430.01 775.98,430.14 776.48,430.26 776.98,430.39 777.48,430.51 777.98,430.63 778.48,430.75 778.98,430.87 779.48,430.99 779.99,431.1 780.49,431.2 780.99,431.3 781.49,431.39 781.99,431.49 782.49,431.58 782.99,431.68 783.49,431.77 783.99,431.86 784.49,431.94 784.99,432.03 785.49,432.12 785.99,432.2 786.49,432.29 786.99,432.37 787.49,432.45 787.99,432.53 788.49,432.61 788.99,432.68 789.49,432.76 789.99,432.83 790.49,432.91 791,432.98 791.5,433.05 792,433.12 792.5,433.19 793,433.25 793.5,433.32 794,433.38 794.5,433.45 795,433.51 795.5,433.57 796,433.63" stroke="#000" stroke-width="2.2" fill="none" stroke-linejoin="round" stroke-linecap="round"/><polyline points="581.3,357.7 581.8,357.95 582.3,358.19 582.8,358.43 583.3,358.68 583.8,358.92 584.3,359.17 584.8,359.42 585.3,359.66 585.8,359.91 586.3,360.16 586.81,360.41 587.31,360.66 587.81,360.91 588.31,361.16 588.81,361.41 589.31,361.66 589.81,361.91 590.31,362.17 590.81,362.42 591.31,362.67 591.81,362.93 592.31,363.18 592.81,363.44 593.31,363.69 593.81,363.95 594.31,364.21 594.81,364.46 595.31,364.72 595.81,364.98 596.31,365.24 596.81,365.5 597.31,365.76 597.82,366.02 598.32,366.28 598.82,366.54 599.32,366.8 599.82,367.06 600.32,367.32 600.82,367.58 601.32,367.85 601.82,368.11 602.32,368.37 602.82,368.63 603.32,368.9 603.82,369.16 604.32,369.43 604.82,369.69 605.32,369.96 605.82,370.22 606.32,370.49 606.82,370.76 607.32,371.02 607.82,371.29 608.33,371.56 608.83,371.82 609.33,372.09 609.83,372.36 610.33,372.63 610.83,372.89 611.33,373.16 611.83,373.43 612.33,373.7 612.83,373.97 613.33,374.24 613.83,374.51 614.33,374.78 614.83,375.05 615.33,375.32 615.83,375.59 616.33,375.86 616.83,376.13 617.33,376.4 617.83,376.67 618.33,376.94 618.83,377.22 619.34,377.49 619.84,377.76 620.34,378.03 620.84,378.3 621.34,378.57 621.84,378.85 622.34,379.12 622.84,379.39 623.34,379.66 623.84,379.93 624.34,380.21 624.84,380.48 625.34,380.75 625.84,381.02 626.34,381.3 626.84,381.57 627.34,381.84 627.84,382.11 628.34,382.39 628.84,382.66 629.34,382.93 629.85,383.2 630.35,383.48 630.85,383.75 631.35,384.02 631.85,384.29 632.35,384.57 632.85,384.84 633.35,385.11 633.85,385.38 634.35,385.66 634.85,385.93 635.35,386.2 635.85,386.47 636.35,386.74 636.85,387.01 637.35,387.29 637.85,387.56 638.35,387.83 638.85,388.1 639.35,388.37 639.85,388.64 640.36,388.91 640.86,389.18 641.36,389.45 641.86,389.72 642.36,389.99 642.86,390.26 643.36,390.53 643.86,390.8 644.36,391.07 644.86,391.34 645.36,391.61 645.86,391.87 646.36,392.14 646.86,392.41 647.36,392.68 647.86,392.94 648.36,393.21 648.86,393.48 649.36,393.74 649.86,394.01 650.36,394.28 650.86,394.54 651.37,394.81 651.87,395.07 652.37,395.34 652.87,395.6 653.37,395.86 653.87,396.13 654.37,396.39 654.87,396.65 655.37,396.92 655.87,397.18 656.37,397.44 656.87,397.7 657.37,397.96 657.87,398.22 658.37,398.48 658.87,398.74 659.37,399 659.87,399.26 660.37,399.52 660.87,399.78 661.37,400.03 661.88,400.29 662.38,400.55 662.88,400.8 663.38,401.06 663.88,401.31 664.38,401.57 664.88,401.82 665.38,402.07 665.88,402.33 666.38,402.58 666.88,402.83 667.38,403.08 667.88,403.33 668.38,403.58 668.88,403.83 669.38,404.08 669.88,404.33 670.38,404.58 670.88,404.83 671.38,405.08 671.88,405.32 672.38,405.57 672.89,405.81 673.39,406.06 673.89,406.3 674.39,406.54 674.89,406.79 675.39,407.06 675.89,407.33 676.39,407.6 676.89,407.88 677.39,408.15 677.89,408.42 678.39,408.69 678.89,408.97 679.39,409.24 679.89,409.51 680.39,409.77 680.89,410.04 681.39,410.31 681.89,410.58 682.39,410.84 682.89,411.11 683.4,411.37 683.9,411.64 684.4,411.9 684.9,412.16 685.4,412.42 685.9,412.68 686.4,412.94 686.9,413.2 687.4,413.46 687.9,413.72 688.4,413.98 688.9,414.23 689.4,414.49 689.9,414.74 690.4,414.97 690.9,415.2 691.4,415.43 691.9,415.65 692.4,415.87 692.9,416.1 693.4,416.32 693.9,416.54 694.41,416.76 694.91,416.98 695.41,417.2 695.91,417.42 696.41,417.63 696.91,417.85 697.41,418.07 697.91,418.28 698.41,418.49 698.91,418.71 699.41,418.92 699.91,419.13 700.41,419.34 700.91,419.55 701.41,419.75 701.91,419.96 702.41,420.17 702.91,420.37 703.41,420.58 703.91,420.78 704.41,420.98 704.92,421.18 705.42,421.38 705.92,421.57 706.42,421.76 706.92,421.95 707.42,422.14 707.92,422.33 708.42,422.52 708.92,422.7 709.42,422.89 709.92,423.07 710.42,423.26 710.92,423.44 711.42,423.62 711.92,423.8 712.42,423.98 712.92,424.16 713.42,424.34 713.92,424.51 714.42,424.69 714.92,424.86 715.42,425.04 715.93,425.21 716.43,425.38 716.93,425.55 717.43,425.72 717.93,425.89 718.43,426.05 718.93,426.22 719.43,426.38 719.93,426.55 720.43,426.71 720.93,426.87 721.43,427.01 721.93,427.15 722.43,427.29 722.93,427.42 723.43,427.56 723.93,427.69 724.43,427.82 724.93,427.95 725.43,428.08 725.93,428.21 726.44,428.34 726.94,428.47 727.44,428.59 727.94,428.71 728.44,428.84 728.94,428.96 729.44,429.08 729.94,429.2 730.44,429.32 730.94,429.43 731.44,429.55 731.94,429.66 732.44,429.78 732.94,429.89 733.44,430 733.94,430.11 734.44,430.22 734.94,430.33 735.44,430.43 735.94,430.54 736.44,430.64 736.94,430.74 737.45,430.85 737.95,430.95 738.45,431.04 738.95,431.14 739.45,431.24 739.95,431.33 740.45,431.43 740.95,431.53 741.45,431.62 741.95,431.72 742.45,431.81 742.95,431.9 743.45,431.99 743.95,432.08 744.45,432.16 744.95,432.25 745.45,432.33 745.95,432.42 746.45,432.5 746.95,432.58 747.45,432.66 747.96,432.74 748.46,432.82 748.96,432.89 749.46,432.97 749.96,433.04 750.46,433.11 750.96,433.18 751.46,433.25 751.96,433.32 752.46,433.38 752.96,433.45 753.46,433.51 753.96,433.58 754.46,433.64 754.96,433.7 755.46,433.76 755.96,433.81 756.46,433.87 756.96,433.92 757.46,433.98 757.96,434.03 758.47,434.08 758.97,434.13 759.47,434.18 759.97,434.22 760.47,434.29 760.97,434.35 761.47,434.42 761.97,434.48 762.47,434.54 762.97,434.6 763.47,434.66 763.97,434.72 764.47,434.77 764.97,434.83 765.47,434.88 765.97,434.93 766.47,434.98 766.97,435.03 767.47,435.08 767.97,435.12 768.47,435.17 768.97,435.21 769.48,435.25 769.98,435.3 770.48,435.33 770.98,435.37 771.48,435.41 771.98,435.44 772.48,435.48 772.98,435.51 773.48,435.54 773.98,435.57 774.48,435.6 774.98,435.63 775.48,435.65 775.98,435.68 776.48,435.7 776.98,435.72 777.48,435.74 777.98,435.76 778.48,435.78 778.98,435.79 779.48,435.81 779.99,435.82 780.49,435.83 780.99,435.84 781.49,435.85 781.99,435.86 782.49,435.87 782.99,435.87 783.49,435.88 783.99,435.88 784.49,435.88 784.99,435.88 785.49,435.88 785.99,435.87 786.49,435.87 786.99,435.86 787.49,435.85 787.99,435.85 788.49,435.84 788.99,435.82 789.49,435.81 789.99,435.8 790.49,435.78 791,435.76 791.5,435.75 792,435.73 792.5,435.7 793,435.68 793.5,435.66 794,435.63 794.5,435.61 795,435.58 795.5,435.55 796,435.52" stroke="#000" stroke-width="2.2" fill="none" stroke-linejoin="round" stroke-linecap="round"/><g clip-path="url(#cb1)"><path d="M603.88,328.5L605.18,393.28M609.18,328.5L610.48,393.28M617.63,328.5L618.93,393.28M622.93,328.5L624.23,393.28M631.38,328.5L632.68,393.28M636.68,328.5L637.98,393.28M645.13,328.5L646.43,393.28M650.43,328.5L651.73,393.28M658.88,328.5L660.18,393.28M664.18,328.5L665.48,393.28M672.63,328.5L673.93,393.28M677.93,328.5L679.23,393.28M686.38,328.5L687.68,393.28M691.68,328.5L692.98,393.28M700.13,328.5L701.43,393.28M705.43,328.5L706.73,393.28M713.88,328.5L715.18,393.28M719.18,328.5L720.48,393.28M727.63,328.5L728.93,393.28M732.93,328.5L734.23,393.28M741.38,328.5L742.68,393.28M746.68,328.5L747.98,393.28M755.13,328.5L756.43,393.28M760.43,328.5L761.73,393.28M768.88,328.5L770.18,393.28M774.18,328.5L775.48,393.28M782.63,328.5L783.93,393.28M787.93,328.5L789.23,393.28M796.38,328.5L797.68,393.28M801.68,328.5L802.98,393.28M810.13,328.5L811.43,393.28M815.43,328.5L816.73,393.28M823.88,328.5L825.18,393.28M829.18,328.5L830.48,393.28" stroke="#000" stroke-width="3.0"/></g><g clip-path="url(#cb1)"><path d="M790.7,360V400" stroke="#000" stroke-width="1.4"/><path d="M793.6,360V400" stroke="#444" stroke-width="1.2"/></g><polyline points="640,330.09 640.5,330.02 641,329.96 641.5,329.89 642,329.83 642.5,329.77 643,329.71 643.5,329.65 644,329.59 644.5,329.54 645,329.48 645.5,329.43 646,329.49 646.5,329.61 647,329.74 647.5,329.87 648,329.96 648.5,329.74 649,329.52 649.5,329.3 650,329.08 650.5,328.96 651,328.93 651.5,328.89 652,328.85 652.5,328.82 653,328.79 653.5,328.75 654,328.72 654.5,328.69 655,328.67 655.5,328.64 656,328.61 656.5,328.59 657,328.57 657.5,328.55 658,328.53 658.5,328.51 659,328.5 659.5,328.56 660,328.74 660.5,328.91 661,329.09 661.5,329.26 662,329.16 662.5,328.98 663,328.81 663.5,328.63 664,328.5 664.5,328.5 665,328.5 665.5,328.5 666,328.5 666.5,328.5 667,328.5 667.5,328.5 668,328.5 668.5,328.5 669,328.5 669.5,328.5 670,328.5 670.5,328.5 671,328.5 671.5,328.52 672,328.54 672.5,328.56 673,328.59 673.5,328.79 674,328.99 674.5,329.19 675,329.4 675.5,329.43 676,329.28 676.5,329.14 677,328.99 677.5,328.85 678,328.88 678.5,328.91 679,328.95 679.5,328.99 680,329.03 680.5,329.08 681,329.12 681.5,329.16 682,329.21 682.5,329.26 683,329.31 683.5,329.36 684,329.41 684.5,329.46 685,329.52 685.5,329.57 686,329.63 686.5,329.69 687,329.88 687.5,330.12 688,330.36 688.5,330.6 689,330.77 689.5,330.66 690,330.55 690.5,330.44 691,330.34 691.5,330.35 692,330.42 692.5,330.5 693,330.57 693.5,330.65 694,330.73 694.5,330.81 695,330.89 695.5,330.97 696,331.06 696.5,331.14 697,331.23 697.5,331.32 698,331.4 698.5,331.5 699,331.59 699.5,331.68 700,331.77 700.5,331.95 701,332.22 701.5,332.5 702,332.77 702.5,333.05 703,333.01 703.5,332.94 704,332.86 704.5,332.79 705,332.79 705.5,332.9 706,333.01 706.5,333.12 707,333.23 707.5,333.34 708,333.46 708.5,333.57 709,333.69 709.5,333.81 710,333.93 710.5,334.05 711,334.17 711.5,334.29 712,334.42 712.5,334.54 713,334.67 713.5,334.8 714,334.95 714.5,335.26 715,335.57 715.5,335.88 716,336.19 716.5,336.29 717,336.25 717.5,336.21 718,336.17 718.5,336.15 719,336.29 719.5,336.43 720,336.58 720.5,336.72 721,336.87 721.5,337.01 722,337.16 722.5,337.31 723,337.46 723.5,337.61 724,337.77 724.5,337.92 725,338.08 725.5,338.23 726,338.39 726.5,338.55 727,338.71 727.5,338.87 728,339.03 728.5,339.19 729,339.36 729.5,339.52 730,339.69 730.5,339.86 731,340.03 731.5,340.2 732,340.37 732.5,340.54 733,340.71 733.5,340.88 734,341.06 734.5,341.24 735,341.41 735.5,341.59 736,341.77 736.5,341.95 737,342.13 737.5,342.31 738,342.5 738.5,342.68 739,342.87 739.5,343.05 740,343.24 740.5,343.43 741,343.62 741.5,343.81 742,344 742.5,344.19 743,344.38 743.5,344.58 744,344.77 744.5,344.97 745,345.17 745.5,345.36 746,345.56 746.5,345.76 747,345.96 747.5,346.17 748,346.37 748.5,346.57 749,346.78 749.5,346.98 750,347.19 750.5,347.4 751,347.6 751.5,347.81 752,348.02 752.5,348.23 753,348.44 753.5,348.66 754,348.87 754.5,349.08 755,349.3 755.5,349.52 756,349.73 756.5,349.95 757,350.17 757.5,350.39 758,350.61 758.5,350.83 759,351.05 759.5,351.27 760,351.5 760.5,351.72 761,351.94 761.5,352.17 762,352.4 762.5,352.62 763,352.85 763.5,353.08 764,353.31 764.5,353.54 765,353.77 765.5,354 766,354.23 766.5,354.47 767,354.7 767.5,354.93 768,355.17 768.5,355.41 769,355.64 769.5,355.88 770,356.12 770.5,356.36 771,356.59 771.5,356.83 772,357.08 772.5,357.32 773,357.56 773.5,357.8 774,358.04 774.5,358.29 775,358.53 775.5,358.78 776,359.02 776.5,359.27 777,359.51 777.5,359.76 778,360.01 778.5,360.26 779,360.51 779.5,360.76 780,361.01 780.5,361.26 781,361.51 781.5,361.76 782,362.01 782.5,362.26 783,362.52 783.5,362.77 784,363.03 784.5,363.28 785,363.53 785.5,363.79 786,364.05 786.5,364.3 787,364.56 787.5,364.82 788,365.08 788.5,365.33 789,365.59 789.5,365.85 790,366.11 790.5,366.37 791,366.63 791.5,366.89 792,367.15 792.5,367.42 793,367.68 793.5,367.94 794,368.2 794.5,368.47 795,368.73 795.5,368.99 796,369.26" stroke="#000" stroke-width="2.2" fill="none" stroke-linejoin="round" stroke-linecap="round"/><polyline points="640,328.5 640.5,328.5 641,328.5 641.5,328.5 642,328.5 642.5,328.55 643,328.61 643.5,328.67 644,328.74 644.5,328.8 645,328.87 645.5,328.94 646,329.01 646.5,329.08 647,329.15 647.5,329.22 648,329.3 648.5,329.37 649,329.45 649.5,329.53 650,329.61 650.5,329.69 651,329.77 651.5,329.86 652,329.94 652.5,330.03 653,330.12 653.5,330.2 654,330.3 654.5,330.39 655,330.48 655.5,330.57 656,330.67 656.5,330.77 657,330.86 657.5,330.96 658,331.06 658.5,331.17 659,331.27 659.5,331.37 660,331.48 660.5,331.59 661,331.7 661.5,331.81 662,331.92 662.5,332.03 663,332.14 663.5,332.26 664,332.37 664.5,332.49 665,332.61 665.5,332.73 666,332.85 666.5,332.97 667,333.09 667.5,333.22 668,333.34 668.5,333.47 669,333.6 669.5,333.73 670,333.86 670.5,333.99 671,334.12 671.5,334.26 672,334.39 672.5,334.53 673,334.67 673.5,334.81 674,334.95 674.5,335.09 675,335.23 675.5,335.38 676,335.52 676.5,335.67 677,335.81 677.5,335.96 678,336.11 678.5,336.26 679,336.41 679.5,336.57 680,336.72 680.5,336.91 681,337.09 681.5,337.28 682,337.47 682.5,337.66 683,337.85 683.5,338.04 684,338.23 684.5,338.43 685,338.62 685.5,338.82 686,339.02 686.5,339.22 687,339.42 687.5,339.62 688,339.82 688.5,340.02 689,340.22 689.5,340.43 690,340.64 690.5,340.84 691,341.05 691.5,341.26 692,341.47 692.5,341.68 693,341.89 693.5,342.11 694,342.32 694.5,342.54 695,342.75 695.5,342.97 696,343.19 696.5,343.41 697,343.63 697.5,343.85 698,344.07 698.5,344.29 699,344.52 699.5,344.74 700,344.97 700.5,345.17 701,345.36 701.5,345.56 702,345.76 702.5,345.96 703,346.17 703.5,346.37 704,346.57 704.5,346.78 705,346.98 705.5,347.19 706,347.4 706.5,347.6 707,347.81 707.5,348.02 708,348.23 708.5,348.44 709,348.66 709.5,348.87 710,349.08 710.5,349.3 711,349.52 711.5,349.73 712,349.95 712.5,350.17 713,350.39 713.5,350.61 714,350.83 714.5,351.05 715,351.27 715.5,351.5 716,351.72 716.5,351.94 717,352.17 717.5,352.4 718,352.62 718.5,352.85 719,353.08 719.5,353.31 720,353.54 720.5,353.77 721,354 721.5,354.23 722,354.47 722.5,354.7 723,354.93 723.5,355.17 724,355.41 724.5,355.64 725,355.88 725.5,356.12 726,356.36 726.5,356.59 727,356.83 727.5,357.08 728,357.32 728.5,357.56 729,357.8 729.5,358.04 730,358.29 730.5,358.53 731,358.78 731.5,359.02 732,359.27 732.5,359.51 733,359.76 733.5,360.01 734,360.26 734.5,360.51 735,360.76 735.5,361.01 736,361.26 736.5,361.51 737,361.76 737.5,362.01 738,362.26 738.5,362.52 739,362.77 739.5,363.03 740,363.28 740.5,363.53 741,363.79 741.5,364.05 742,364.3 742.5,364.56 743,364.82 743.5,365.08 744,365.33 744.5,365.59 745,365.85 745.5,366.11 746,366.37 746.5,366.63 747,366.89 747.5,367.15 748,367.42 748.5,367.68 749,367.94 749.5,368.2 750,368.47 750.5,368.73 751,368.99 751.5,369.26 752,369.52 752.5,369.79 753,370.05 753.5,370.32 754,370.58 754.5,370.85 755,371.12 755.5,371.38 756,371.65 756.5,371.92 757,372.18 757.5,372.45 758,372.72 758.5,372.99 759,373.26 759.5,373.52 760,373.79 760.5,374.06 761,374.33 761.5,374.6 762,374.87 762.5,375.14 763,375.41 763.5,375.68 764,375.95 764.5,376.22 765,376.49 765.5,376.76 766,377.03 766.5,377.31 767,377.58 767.5,377.85 768,378.12 768.5,378.39 769,378.66 769.5,378.93 770,379.21 770.5,379.48 771,379.75 771.5,380.02 772,380.29 772.5,380.57 773,380.84 773.5,381.11 774,381.38 774.5,381.66 775,381.93 775.5,382.2 776,382.47 776.5,382.74 777,383.02 777.5,383.29 778,383.56 778.5,383.83 779,384.11 779.5,384.38 780,384.65 780.5,384.92 781,385.19 781.5,385.47 782,385.74 782.5,386.01 783,386.28 783.5,386.55 784,386.82 784.5,387.09 785,387.37 785.5,387.64 786,387.91 786.5,388.18 787,388.45 787.5,388.72 788,388.99 788.5,389.26 789,389.53 789.5,389.8 790,390.07 790.5,390.34 791,390.61 791.5,390.88 792,391.14 792.5,391.41 793,391.68 793.5,391.95 794,392.22 794.5,392.48 795,392.75 795.5,393.02 796,393.28" stroke="#000" stroke-width="2.2" fill="none" stroke-linejoin="round" stroke-linecap="round"/><g clip-path="url(#cb2)"><path d="M542.22,413.04L542.68,435.8M547.52,413.04L547.98,435.8M555.97,413.04L556.43,435.8M561.27,413.04L561.73,435.8M569.72,413.04L570.18,435.8M575.02,413.04L575.48,435.8M583.47,413.04L583.93,435.8M588.77,413.04L589.23,435.8M597.22,413.04L597.68,435.8M602.52,413.04L602.98,435.8M610.97,413.04L611.43,435.8M616.27,413.04L616.73,435.8M624.72,413.04L625.18,435.8M630.02,413.04L630.48,435.8M638.47,413.04L638.93,435.8M643.77,413.04L644.23,435.8M652.22,413.04L652.68,435.8M657.52,413.04L657.98,435.8M665.97,413.04L666.43,435.8M671.27,413.04L671.73,435.8M679.72,413.04L680.18,435.8M685.02,413.04L685.48,435.8M693.47,413.04L693.93,435.8M698.77,413.04L699.23,435.8" stroke="#000" stroke-width="3.0"/></g><polyline points="581.3,413.04 581.8,413.26 582.3,413.48 582.8,413.71 583.31,413.93 583.81,414.15 584.31,414.37 584.81,414.58 585.31,414.8 585.81,415.02 586.31,415.23 586.81,415.45 587.32,415.66 587.82,415.88 588.32,416.09 588.82,416.3 589.32,416.51 589.82,416.72 590.32,416.93 590.82,417.14 591.33,417.35 591.83,417.55 592.33,417.76 592.83,417.96 593.33,418.17 593.83,418.37 594.33,418.57 594.83,418.77 595.34,418.97 595.84,419.17 596.34,419.37 596.84,419.56 597.34,419.76 597.84,419.95 598.34,420.15 598.84,420.34 599.35,420.53 599.85,420.72 600.35,420.91 600.85,421.1 601.35,421.29 601.85,421.48 602.35,421.67 602.85,421.85 603.36,422.03 603.86,422.22 604.36,422.4 604.86,422.58 605.36,422.76 605.86,422.94 606.36,423.12 606.86,423.29 607.37,423.47 607.87,423.64 608.37,423.82 608.87,423.99 609.37,424.16 609.87,424.33 610.37,424.5 610.88,424.67 611.38,424.84 611.88,425 612.38,425.17 612.88,425.33 613.38,425.49 613.88,425.65 614.38,425.81 614.89,425.97 615.39,426.13 615.89,426.29 616.39,426.45 616.89,426.6 617.39,426.75 617.89,426.91 618.39,427.06 618.9,427.21 619.4,427.36 619.9,427.5 620.4,427.65 620.9,427.8 621.4,427.94 621.9,428.08 622.4,428.23 622.91,428.37 623.41,428.51 623.91,428.64 624.41,428.78 624.91,428.92 625.41,429.05 625.91,429.19 626.41,429.32 626.92,429.45 627.42,429.58 627.92,429.71 628.42,429.84 628.92,429.96 629.42,430.09 629.92,430.21 630.42,430.33 630.93,430.45 631.43,430.57 631.93,430.69 632.43,430.81 632.93,430.93 633.43,431.04 633.93,431.16 634.44,431.27 634.94,431.38 635.44,431.49 635.94,431.6 636.44,431.71 636.94,431.81 637.44,431.92 637.94,432.02 638.45,432.12 638.95,432.23 639.45,432.32 639.95,432.42 640.45,432.52 640.95,432.62 641.45,432.71 641.95,432.8 642.46,432.9 642.96,432.99 643.46,433.08 643.96,433.16 644.46,433.25 644.96,433.34 645.46,433.42 645.96,433.5 646.47,433.59 646.97,433.67 647.47,433.74 647.97,433.82 648.47,433.9 648.97,433.97 649.47,434.05 649.97,434.12 650.48,434.19 650.98,434.26 651.48,434.33 651.98,434.39 652.48,434.46 652.98,434.52 653.48,434.59 653.98,434.65 654.49,434.71 654.99,434.77 655.49,434.82 655.99,434.88 656.49,434.94 656.99,434.99 657.49,435.04 657.99,435.09 658.5,435.14 659,435.19 659.5,435.24 660,435.28" stroke="#000" stroke-width="2.2" fill="none" stroke-linejoin="round" stroke-linecap="round"/><polyline points="581.3,428.81 581.8,428.94 582.3,429.08 582.8,429.21 583.31,429.34 583.81,429.47 584.31,429.6 584.81,429.73 585.31,429.86 585.81,429.98 586.31,430.11 586.81,430.23 587.32,430.36 587.82,430.48 588.32,430.6 588.82,430.71 589.32,430.83 589.82,430.95 590.32,431.06 590.82,431.18 591.33,431.29 591.83,431.4 592.33,431.51 592.83,431.62 593.33,431.73 593.83,431.83 594.33,431.94 594.83,432.04 595.34,432.14 595.84,432.24 596.34,432.34 596.84,432.44 597.34,432.54 597.84,432.63 598.34,432.73 598.84,432.82 599.35,432.91 599.85,433 600.35,433.09 600.85,433.18 601.35,433.27 601.85,433.35 602.35,433.44 602.85,433.52 603.36,433.6 603.86,433.68 604.36,433.76 604.86,433.84 605.36,433.91 605.86,433.99 606.36,434.06 606.86,434.13 607.37,434.2 607.87,434.27 608.37,434.34 608.87,434.41 609.37,434.47 609.87,434.54 610.37,434.6 610.88,434.66 611.38,434.72 611.88,434.78 612.38,434.84 612.88,434.89 613.38,434.95 613.88,435 614.38,435.05 614.89,435.1 615.39,435.15 615.89,435.2 616.39,435.24 616.89,435.29 617.39,435.33 617.89,435.37 618.39,435.42 618.9,435.45 619.4,435.49 619.9,435.53 620.4,435.56 620.9,435.6 621.4,435.63 621.9,435.66 622.4,435.69 622.91,435.72 623.41,435.75 623.91,435.77 624.41,435.8 624.91,435.8 625.41,435.8 625.91,435.8 626.41,435.8 626.92,435.8 627.42,435.8 627.92,435.8 628.42,435.8 628.92,435.8 629.42,435.8 629.92,435.8 630.42,435.8 630.93,435.8 631.43,435.8 631.93,435.8 632.43,435.8 632.93,435.8 633.43,435.8 633.93,435.8 634.44,435.8 634.94,435.8 635.44,435.8 635.94,435.8 636.44,435.8 636.94,435.8 637.44,435.8 637.94,435.8 638.45,435.8 638.95,435.8 639.45,435.8 639.95,435.8 640.45,435.8 640.95,435.8 641.45,435.8 641.95,435.78 642.46,435.75 642.96,435.73 643.46,435.7 643.96,435.67 644.46,435.64 644.96,435.6 645.46,435.57 645.96,435.54 646.47,435.5 646.97,435.46 647.47,435.42 647.97,435.38 648.47,435.34 648.97,435.3 649.47,435.25 649.97,435.21 650.48,435.16 650.98,435.11 651.48,435.06 651.98,435.01 652.48,434.95 652.98,434.9 653.48,434.84 653.98,434.79 654.49,434.73 654.99,434.67 655.49,434.61 655.99,434.55 656.49,434.48 656.99,434.42 657.49,434.35 657.99,434.28 658.5,434.21 659,434.14 659.5,434.07 660,434" stroke="#000" stroke-width="2.2" fill="none" stroke-linejoin="round" stroke-linecap="round"/><polyline points="580.5,337.75 580.78,337.48 581.12,337.15 581.51,336.77 581.95,336.36 582.43,336.08 582.94,335.78 583.47,335.47 584.03,335.15 584.6,334.83 585.19,334.52 585.77,334.21 586.35,333.92 586.92,333.65 587.47,333.41 588,333.2 588.48,333.03 588.96,332.87 589.43,332.72 589.89,332.59 590.36,332.46 590.83,332.35 591.3,332.35 591.78,332.44 592.27,332.53 592.76,332.64 593.26,332.74 593.78,332.48 594.31,332.18 594.85,331.88 595.42,331.56 596,331.4 596.44,331.33 596.88,331.26 597.33,331.19 597.79,331.12 598.26,331.05 598.73,330.98 599.21,330.91 599.69,330.84 600.19,330.78 600.68,330.71 601.19,330.65 601.7,330.59 602.21,330.52 602.73,330.46 603.25,330.4 603.77,330.34 604.3,330.28 604.84,330.27 605.37,330.43 605.91,330.58 606.46,330.74 607,330.9 607.46,330.67 607.93,330.44 608.4,330.21 608.87,329.98 609.34,329.77 609.82,329.73 610.3,329.69 610.79,329.64 611.27,329.6 611.76,329.56 612.26,329.52 612.75,329.48 613.25,329.44 613.75,329.4 614.26,329.36 614.76,329.32 615.27,329.29 615.79,329.25 616.3,329.22 616.82,329.18 617.34,329.15 617.87,329.12 618.4,329.09 618.93,329.26 619.46,329.44 620,329.62 620.47,329.79 620.95,329.76 621.43,329.55 621.92,329.33 622.41,329.12 622.9,328.91 623.4,328.86 623.91,328.84 624.42,328.82 624.93,328.81 625.44,328.79 625.95,328.78 626.47,328.76 626.98,328.75 627.5,328.74 628.02,328.73 628.53,328.71 629.05,328.7 629.56,328.69 630.07,328.68 630.58,328.67 631.09,328.66 631.6,328.65 632.1,328.64 632.59,328.82 633.08,329.01 633.57,329.19 634.05,329.38 634.53,329.46 635,329.26 635.54,329.04 636.1,328.82 636.67,328.59 637.24,328.58 637.82,328.57 638.4,328.57 638.99,328.57 639.57,328.57 640.16,328.57 640.74,328.57 641.31,328.57 641.88,328.57 642.44,328.58 642.98,328.58 643.52,328.58 644.04,328.58 644.54,328.58 645.02,328.59 645.49,328.59 645.93,328.64 646.35,328.8 646.74,328.96 647.1,329.1 647.43,329.24 647.73,329.35 648,329.46" stroke="#000" stroke-width="2.2" fill="none" stroke-linejoin="round" stroke-linecap="round"/><polyline points="726.6,336.56 726.91,336.59 727.29,336.61 727.74,336.63 728.25,336.62 728.8,336.22 729.39,335.79 730.02,335.34 730.67,334.97 731.33,334.78 732,334.6 732.42,334.49 732.85,334.39 733.28,334.29 733.72,334.19 734.17,334.09 734.63,333.98 735.1,333.88 735.59,333.78 736.08,333.68 736.59,333.57 737.12,333.47 737.66,333.36 738.22,333.25 738.79,333.14 739.39,333.02 740,333.09 740.43,333.17 740.87,333.26 741.34,333.36 741.81,333.44 742.31,333.15 742.81,332.85 743.33,332.55 743.85,332.24 744.38,332.05 744.92,331.95 745.46,331.85 746,331.74 746.54,331.64 747.08,331.54 747.62,331.44 748.15,331.35 748.67,331.25 749.19,331.16 749.69,331.08 750.19,330.99 750.66,330.91 751.13,330.84 751.57,330.77 752,330.7 752.61,330.61 753.18,330.55 753.72,330.69 754.23,330.83 754.73,330.97 755.21,331.11 755.67,331.04 756.12,330.81 756.58,330.59 757.03,330.38 757.49,330.16 757.95,330.05 758.43,330.02 758.93,329.98 759.45,329.94 760,329.9 760.45,329.87 760.91,329.83 761.37,329.8 761.84,329.76 762.31,329.73 762.79,329.7 763.27,329.66 763.76,329.63 764.25,329.6 764.75,329.57 765.25,329.54 765.76,329.51 766.27,329.48 766.79,329.47 767.31,329.65 767.84,329.84 768.37,330.02 768.91,330.21 769.45,330.04 770,329.8 770.46,329.6 770.93,329.4 771.41,329.25 771.89,329.23 772.37,329.21 772.86,329.2 773.36,329.18 773.86,329.17 774.36,329.15 774.87,329.14 775.38,329.13 775.89,329.11 776.4,329.1 776.91,329.09 777.43,329.08 777.94,329.07 778.45,329.06 778.97,329.05 779.48,329.04 779.99,329.03 780.5,329.09 781,329.28 781.5,329.47 782,329.66 782.53,329.87 783.07,329.7 783.64,329.47 784.21,329.24 784.8,329.01 785.39,328.98 785.99,328.98 786.58,328.98 787.18,328.98 787.77,328.98 788.36,328.98 788.94,328.98 789.5,328.98 790.05,328.99 790.58,328.99 791.08,328.99 791.57,328.99 792.02,328.99 792.45,329 792.84,329 793.2,329 793.52,329 793.8,329" stroke="#000" stroke-width="2.2" fill="none" stroke-linejoin="round" stroke-linecap="round"/><polyline points="650,435.1 650.26,435.11 650.55,435.11 650.86,435.12 651.2,435.13 651.56,435.14 651.95,435.15 652.36,435.15 652.8,434.99 653.26,434.82 653.75,434.64 654.26,434.45 654.8,434.41 655.36,434.64 655.95,434.89 656.56,435.14 657.2,435.28 657.86,435.28 658.55,435.29 659.26,435.3 660,435.3 660.38,435.3 660.78,435.3 661.19,435.31 661.62,435.31 662.06,435.31 662.51,435.31 662.97,435.32 663.44,435.32 663.92,435.33 664.41,435.33 664.91,435.33 665.42,435.34 665.94,435.34 666.46,435.17 666.99,434.96 667.52,434.76 668.06,434.55 668.6,434.57 669.14,434.79 669.69,435 670.24,435.22 670.78,435.36 671.33,435.36 671.88,435.36 672.43,435.35 672.97,435.35 673.51,435.35 674.05,435.34 674.59,435.34 675.12,435.33 675.64,435.32 676.16,435.31 676.67,435.3 677.18,435.29 677.67,435.28 678.16,435.27 678.63,435.25 679.1,435.24 679.56,435.22 680,435.09 680.58,434.83 681.16,434.57 681.73,434.32 682.29,434.29 682.85,434.47 683.4,434.65 683.95,434.82 684.49,434.91 685.02,434.87 685.56,434.82 686.08,434.77 686.6,434.72 687.11,434.67 687.62,434.62 688.12,434.56 688.62,434.51 689.11,434.45 689.6,434.4 690.08,434.34 690.56,434.28 691.02,434.22 691.49,434.17 691.95,434.11 692.4,434.05 692.85,433.99 693.29,433.93 693.73,433.75 694.16,433.52 694.58,433.3 695,433.08 695.61,432.75 696.2,432.83 696.77,432.96 697.32,433.09 697.85,433.21 698.37,433.17 698.87,433.08 699.36,432.98 699.84,432.89 700.31,432.79 700.78,432.7 701.24,432.6 701.7,432.5 702.16,432.4 702.62,432.31 703.08,432.21 703.55,432.11 704.02,432 704.51,431.9 705,431.8 705.5,431.7 706.02,431.59 706.53,431.49 707.06,431.38 707.58,431.09 708.11,430.77 708.64,430.46 709.17,430.14 709.69,430.05 710.22,430.15 710.74,430.24 711.25,430.33 711.76,430.39 712.26,430.28 712.75,430.16 713.22,430.05 713.69,429.94 714.14,429.83 714.58,429.71 715,429.6 715.63,429.42 716.26,429.23 716.87,429.03 717.47,428.82 718.05,428.62 718.61,428.41 719.14,428.21 719.63,428.02 720.09,427.84 720.52,427.68 720.89,427.5 721.22,427.24 721.5,427.03" stroke="#000" stroke-width="2.2" fill="none" stroke-linejoin="round" stroke-linecap="round"/><path d="M795.9,330.5 V432.3 Q795.9,435.4 792.3,436.1" stroke="#000" stroke-width="2.2" fill="none" stroke-linejoin="round" stroke-linecap="round"/><path d="M793.6,329.6 C793.8,340 788,351 780.5,355.9 L795,361.6" stroke="#000" stroke-width="2.2" fill="none" stroke-linejoin="round" stroke-linecap="round"/><path d="M795,391.6 L791.5,392.2 L779.8,401.1 L795.3,408.8" stroke="#000" stroke-width="2.2" fill="none" stroke-linejoin="round" stroke-linecap="round"/><g fill="none" stroke="#000" stroke-width="2.3" stroke-linejoin="miter" stroke-miterlimit="1.5" stroke-linecap="square"><path d="M37.9,379.4 L37.88,380.41 L37.82,381.21 L37.72,381.95 L37.59,382.63 L37.41,383.27 L37.2,383.86 L36.96,384.42 L36.67,384.93 L36.35,385.39 L36,385.82 L35.62,386.19 L35.2,386.52 L34.76,386.8 L34.28,387.03 L33.77,387.22 L33.21,387.35 L32.61,387.42 L31.85,387.45 L31.09,387.42 L30.49,387.35 L29.93,387.22 L29.42,387.03 L28.94,386.8 L28.5,386.52 L28.08,386.19 L27.7,385.82 L27.35,385.39 L27.03,384.93 L26.74,384.42 L26.5,383.86 L26.29,383.27 L26.11,382.63 L25.98,381.95 L25.88,381.21 L25.82,380.41 L25.8,379.4 L25.82,378.39 L25.88,377.59 L25.98,376.85 L26.11,376.17 L26.29,375.53 L26.5,374.94 L26.74,374.38 L27.03,373.87 L27.35,373.41 L27.7,372.98 L28.08,372.61 L28.5,372.28 L28.94,372 L29.42,371.77 L29.93,371.58 L30.49,371.45 L31.09,371.38 L31.85,371.35 L32.61,371.38 L33.21,371.45 L33.77,371.58 L34.28,371.77 L34.76,372 L35.2,372.28 L35.62,372.61 L36,372.98 L36.35,373.41 L36.67,373.87 L36.96,374.38 L37.2,374.94 L37.41,375.53 L37.59,376.17 L37.72,376.85 L37.82,377.59 L37.88,378.39 L37.9,379.4Z"/><path d="M25.3,388.2L38.4,371.4" stroke-linecap="butt"/><path d="M44.4,371.9H49.7A5.0,5.6 0 0 1 54.7,377.5V382A5.0,5.6 0 0 1 49.7,387.6H44.4Z"/><path stroke-linejoin="round" d="M61.4,387.6V371.9L67.4,387.6L73.4,371.9V387.6"/><path stroke-linejoin="round" d="M80.9,387.6V371.9L86.95,387.6L93,371.9V387.6"/><path d="M478.2,206.45 L478.18,207.45 L478.12,208.25 L478.02,208.98 L477.89,209.66 L477.71,210.29 L477.5,210.89 L477.26,211.43 L476.97,211.94 L476.65,212.41 L476.3,212.83 L475.92,213.2 L475.5,213.53 L475.06,213.81 L474.58,214.04 L474.07,214.22 L473.51,214.35 L472.91,214.42 L472.15,214.45 L471.39,214.42 L470.79,214.35 L470.23,214.22 L469.72,214.04 L469.24,213.81 L468.8,213.53 L468.38,213.2 L468,212.83 L467.65,212.41 L467.33,211.94 L467.04,211.43 L466.8,210.89 L466.59,210.29 L466.41,209.66 L466.28,208.98 L466.18,208.25 L466.12,207.45 L466.1,206.45 L466.12,205.45 L466.18,204.65 L466.28,203.92 L466.41,203.24 L466.59,202.61 L466.8,202.01 L467.04,201.47 L467.33,200.96 L467.65,200.49 L468,200.07 L468.38,199.7 L468.8,199.37 L469.24,199.09 L469.72,198.86 L470.23,198.68 L470.79,198.55 L471.39,198.48 L472.15,198.45 L472.91,198.48 L473.51,198.55 L474.07,198.68 L474.58,198.86 L475.06,199.09 L475.5,199.37 L475.92,199.7 L476.3,200.07 L476.65,200.49 L476.97,200.96 L477.26,201.47 L477.5,202.01 L477.71,202.61 L477.89,203.24 L478.02,203.92 L478.12,204.65 L478.18,205.45 L478.2,206.45Z"/><path stroke-linejoin="round" d="M483.5,214.5L489.15,198.5L494.8,214.5M485.38,209.17H492.92"/><path d="M501.1,198.6V214.5H509.8"/><path d="M668,258.9V274.8H676.9"/><path d="M692.7,266.8 L692.68,267.78 L692.63,268.57 L692.53,269.28 L692.4,269.95 L692.24,270.57 L692.04,271.15 L691.8,271.69 L691.53,272.19 L691.23,272.64 L690.9,273.06 L690.53,273.42 L690.14,273.75 L689.71,274.02 L689.26,274.25 L688.77,274.42 L688.25,274.55 L687.67,274.62 L686.95,274.65 L686.23,274.62 L685.65,274.55 L685.13,274.42 L684.64,274.25 L684.19,274.02 L683.76,273.75 L683.37,273.42 L683,273.06 L682.67,272.64 L682.37,272.19 L682.1,271.69 L681.86,271.15 L681.66,270.57 L681.5,269.95 L681.37,269.28 L681.27,268.57 L681.22,267.78 L681.2,266.8 L681.22,265.82 L681.27,265.03 L681.37,264.32 L681.5,263.65 L681.66,263.03 L681.86,262.45 L682.1,261.91 L682.37,261.41 L682.67,260.96 L683,260.54 L683.37,260.18 L683.76,259.85 L684.19,259.58 L684.64,259.35 L685.13,259.18 L685.65,259.05 L686.23,258.98 L686.95,258.95 L687.67,258.98 L688.25,259.05 L688.77,259.18 L689.26,259.35 L689.71,259.58 L690.14,259.85 L690.53,260.18 L690.9,260.54 L691.23,260.96 L691.53,261.41 L691.8,261.91 L692.04,262.45 L692.24,263.03 L692.4,263.65 L692.53,264.32 L692.63,265.03 L692.68,265.82 L692.7,266.8Z"/><path d="M710.1,262.91 L709.92,262.42 L709.72,261.96 L709.49,261.52 L709.24,261.12 L708.96,260.75 L708.66,260.42 L708.34,260.11 L708,259.84 L707.63,259.61 L707.24,259.41 L706.83,259.24 L706.39,259.11 L705.93,259.02 L705.42,258.97 L704.76,258.95 L704.14,258.97 L703.64,259.03 L703.17,259.12 L702.74,259.25 L702.33,259.42 L701.94,259.62 L701.58,259.86 L701.23,260.13 L700.91,260.44 L700.62,260.78 L700.34,261.15 L700.09,261.56 L699.87,261.99 L699.67,262.45 L699.49,262.95 L699.34,263.47 L699.22,264.03 L699.12,264.62 L699.05,265.25 L699.01,265.94 L699,266.8 L699.01,267.66 L699.05,268.35 L699.12,268.98 L699.22,269.57 L699.34,270.13 L699.49,270.65 L699.67,271.15 L699.87,271.61 L700.09,272.04 L700.34,272.45 L700.62,272.82 L700.91,273.16 L701.23,273.47 L701.58,273.74 L701.94,273.98 L702.33,274.18 L702.74,274.35 L703.17,274.48 L703.64,274.57 L704.14,274.63 L704.76,274.65 L705.42,274.63 L705.93,274.58 L706.39,274.49 L706.83,274.36 L707.24,274.19 L707.63,273.99 L708,273.76 L708.34,273.49 L708.66,273.18 L708.96,272.85 L709.24,272.48 L709.49,272.08 L709.72,271.64 L709.92,271.18 L710.1,270.69" stroke-linecap="butt"/><path d="M874.78,287.18 L874.6,286.68 L874.39,286.21 L874.15,285.77 L873.89,285.36 L873.61,284.99 L873.3,284.64 L872.96,284.33 L872.61,284.06 L872.23,283.82 L871.83,283.61 L871.4,283.45 L870.95,283.32 L870.47,283.22 L869.94,283.17 L869.26,283.15 L868.62,283.17 L868.1,283.23 L867.61,283.32 L867.16,283.46 L866.74,283.63 L866.34,283.84 L865.96,284.08 L865.61,284.36 L865.28,284.67 L864.97,285.02 L864.69,285.39 L864.43,285.81 L864.2,286.25 L863.99,286.72 L863.81,287.23 L863.65,287.76 L863.53,288.33 L863.43,288.93 L863.36,289.57 L863.31,290.27 L863.3,291.15 L863.31,292.03 L863.36,292.73 L863.43,293.37 L863.53,293.97 L863.65,294.54 L863.81,295.07 L863.99,295.58 L864.2,296.05 L864.43,296.49 L864.69,296.91 L864.97,297.28 L865.28,297.63 L865.61,297.94 L865.96,298.22 L866.34,298.46 L866.74,298.67 L867.16,298.84 L867.61,298.98 L868.1,299.07 L868.62,299.13 L869.26,299.15 L869.94,299.13 L870.47,299.08 L870.95,298.98 L871.4,298.85 L871.83,298.69 L872.23,298.48 L872.61,298.24 L872.96,297.97 L873.3,297.66 L873.61,297.31 L873.89,296.94 L874.15,296.53 L874.39,296.09 L874.6,295.62 L874.78,295.12" stroke-linecap="butt"/><path d="M881.5,283.4V299.1M891.8,283.4V299.1M881.5,291.25H891.8"/><path stroke-linejoin="round" d="M898.3,283.4L902.22,299.1L906.15,283.4L910.07,299.1L914,283.4"/><path d="M919.3,304.3L932.9,280.5"/><path d="M939.2,299.1V283.4H944.8A4.0,3.93 0 0 1 944.8,291.25H939.2M943.8,291.25L948.6,299.1"/><path d="M964.1,283.4H955.5V299.1H964.1M955.5,291.25H960.23"/><path d="M894.7,379.6 L894.68,380.63 L894.62,381.46 L894.52,382.21 L894.38,382.91 L894.2,383.56 L893.98,384.17 L893.72,384.74 L893.43,385.26 L893.1,385.74 L892.74,386.18 L892.34,386.56 L891.91,386.9 L891.45,387.19 L890.96,387.42 L890.43,387.61 L889.86,387.74 L889.23,387.82 L888.45,387.85 L887.67,387.82 L887.04,387.74 L886.47,387.61 L885.94,387.42 L885.45,387.19 L884.99,386.9 L884.56,386.56 L884.16,386.18 L883.8,385.74 L883.47,385.26 L883.18,384.74 L882.92,384.17 L882.7,383.56 L882.52,382.91 L882.38,382.21 L882.28,381.46 L882.22,380.63 L882.2,379.6 L882.22,378.57 L882.28,377.74 L882.38,376.99 L882.52,376.29 L882.7,375.64 L882.92,375.03 L883.18,374.46 L883.47,373.94 L883.8,373.46 L884.16,373.02 L884.56,372.64 L884.99,372.3 L885.45,372.01 L885.94,371.78 L886.47,371.59 L887.04,371.46 L887.67,371.38 L888.45,371.35 L889.23,371.38 L889.86,371.46 L890.43,371.59 L890.96,371.78 L891.45,372.01 L891.91,372.3 L892.34,372.64 L892.74,373.02 L893.1,373.46 L893.43,373.94 L893.72,374.46 L893.98,375.03 L894.2,375.64 L894.38,376.29 L894.52,376.99 L894.62,377.74 L894.68,378.57 L894.7,379.6Z"/><path d="M881.7,388.6L895.2,371.4" stroke-linecap="butt"/><path d="M900.9,371.9H906.1A5.0,5.6 0 0 1 911.1,377.5V382.2A5.0,5.6 0 0 1 906.1,387.8H900.9Z"/><path d="M928.58,375.51 L928.4,374.99 L928.19,374.51 L927.95,374.05 L927.69,373.63 L927.41,373.24 L927.1,372.89 L926.76,372.57 L926.41,372.29 L926.03,372.04 L925.63,371.83 L925.2,371.66 L924.75,371.52 L924.27,371.43 L923.74,371.37 L923.06,371.35 L922.42,371.37 L921.9,371.43 L921.41,371.53 L920.96,371.67 L920.54,371.84 L920.14,372.06 L919.76,372.31 L919.41,372.59 L919.08,372.92 L918.77,373.27 L918.49,373.66 L918.23,374.09 L918,374.54 L917.79,375.03 L917.61,375.55 L917.45,376.1 L917.33,376.69 L917.23,377.31 L917.16,377.97 L917.11,378.69 L917.1,379.6 L917.11,380.51 L917.16,381.23 L917.23,381.89 L917.33,382.51 L917.45,383.1 L917.61,383.65 L917.79,384.17 L918,384.66 L918.23,385.11 L918.49,385.54 L918.77,385.93 L919.08,386.28 L919.41,386.61 L919.76,386.89 L920.14,387.14 L920.54,387.36 L920.96,387.53 L921.41,387.67 L921.9,387.77 L922.42,387.83 L923.06,387.85 L923.74,387.83 L924.27,387.77 L924.75,387.68 L925.2,387.54 L925.63,387.37 L926.03,387.16 L926.41,386.91 L926.76,386.63 L927.1,386.31 L927.41,385.96 L927.69,385.57 L927.95,385.15 L928.19,384.69 L928.4,384.21 L928.58,383.69" stroke-linecap="butt"/></g></svg></body></html>
